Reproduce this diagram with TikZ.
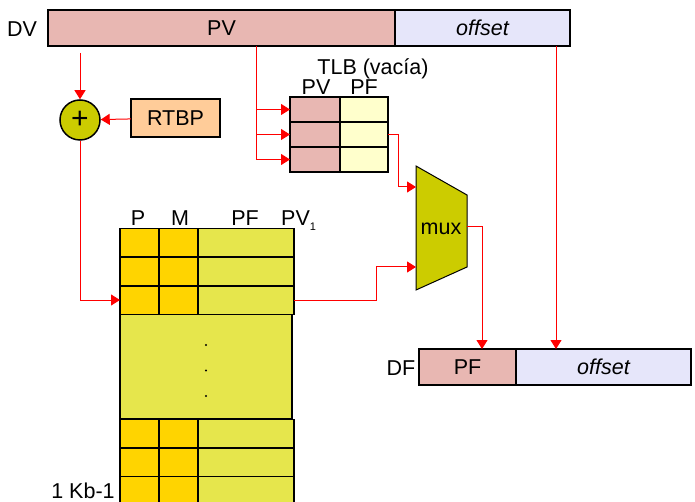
\documentclass[tikz,border=0pt]{standalone}
\usepackage{fontspec}
\setmainfont{Liberation Sans}
\usepackage{tikz}
\usetikzlibrary{arrows.meta, positioning}
\definecolor{pvpink}{HTML}{E8B7B2}
\definecolor{offlav}{HTML}{E6E6FA}
\definecolor{rtbppeach}{HTML}{FFCC99}
\definecolor{olivey}{HTML}{CCCC00}
\definecolor{tlbyellow}{HTML}{FFFFCC}
\definecolor{ptgold}{HTML}{FFD400}
\definecolor{ptgreen}{HTML}{E6E64C}

\begin{document}
\begin{tikzpicture}[x=1pt, y=-1pt,
  arr/.style={-{Triangle[length=9pt,width=11pt]}, red, line width=1pt},
  lbl/.style={font=\fontsize{21.5}{24}\selectfont, inner sep=0pt},
  field/.style={draw, line width=1.6pt, inner sep=0pt, outer sep=0pt, minimum height=36pt, font=\fontsize{21.5}{24}\selectfont},
  cellbox/.style={draw, line width=1.5pt, inner sep=0pt, outer sep=0pt}
]
\useasboundingbox (0,0) rectangle (695,502);
\clip (0,0) rectangle (695,502);

% virtual address
\node[lbl] (dv) at (22,29) {DV};
\node[field, fill=pvpink, minimum width=347pt] (pv) at (221.5,28) {PV};
\node[field, fill=offlav, minimum width=175pt] (off) at (482.5,28) {\itshape offset};

% base register and adder
\node[circle, draw, line width=1.5pt, fill=olivey, minimum size=40pt, inner sep=0pt, font=\fontsize{30}{30}\selectfont] (sum) at (80,120) {+};
\node[field, fill=rtbppeach, minimum width=89pt, minimum height=38pt] (rtbp) at (175.5,118) {RTBP};

% TLB
\node[lbl] (tlbname) at (373,69) {TLB (vacía)};
\node[lbl] (tlbpv) at (316,87) {PV};
\node[lbl] (tlbpf) at (364,87) {PF};
\foreach \r/\y in {1/109.5,2/134.5,3/159.5} {
  \node[cellbox, fill=pvpink, minimum width=50pt, minimum height=25pt] (tlb-\r-1) at (315,\y) {};
  \node[cellbox, fill=tlbyellow, minimum width=48pt, minimum height=25pt] (tlb-\r-2) at (364,\y) {};
}

% page table
\node[lbl] (hp) at (138,218) {P};
\node[lbl] (hm) at (180,218) {M};
\node[lbl] (hpf) at (245,218) {PF};
\node[lbl, anchor=base west] (hpv) at (281,225.5) {PV\raisebox{-5pt}{\fontsize{11}{11}\selectfont 1}};
\foreach \r/\y in {1/243,2/271.5,3/300,4/433.5,5/462,6/490.5} {
  \node[cellbox, fill=ptgold, minimum width=39pt, minimum height=28.5pt] (pt-\r-1) at (139.5,\y) {};
  \node[cellbox, fill=ptgold, minimum width=39pt, minimum height=28.5pt] (pt-\r-2) at (178.5,\y) {};
  \node[cellbox, fill=ptgreen, minimum width=96pt, minimum height=28.5pt] (pt-\r-3) at (246,\y) {};
}
\node[cellbox, fill=ptgreen, minimum width=172pt, minimum height=104.5pt] (gap) at (206,366.5) {};
\foreach \y in {345,370.5,396} \fill (206,\y) circle (1.1pt);
\node[lbl] (last) at (83,491) {1 Kb-1};

% multiplexer
\coordinate (mux-tl) at (416,166);
\coordinate (mux-tr) at (467,195);
\coordinate (mux-br) at (467,267);
\coordinate (mux-bl) at (416,290);
\draw[fill=olivey, line width=1pt] (mux-tl) -- (mux-tr) -- (mux-br) -- (mux-bl) -- cycle;
\node[lbl] (mux) at (441,229) {mux};
\coordinate (mux-in1) at (416,187);
\coordinate (mux-in2) at (416,267);
\coordinate (mux-out) at (467,227);

% physical address
\node[lbl] (df) at (401,368) {DF};
\node[field, fill=pvpink, minimum width=97pt] (dfpf) at (467.5,367) {PF};
\node[field, fill=offlav, minimum width=175pt] (dfoff) at (603.5,367) {\itshape offset};

% connections
\coordinate (tap1) at (80,53);
\coordinate (tap2) at (256,46);
\coordinate (tap3) at (556,46);
\draw[arr] (tap1) -- (sum.north);
\draw[arr] (rtbp) -- (sum);
\draw[arr] (sum.south) |- (pt-3-1.west);
\foreach \r in {1,2,3}
  \draw[arr] (tap2) |- (tlb-\r-1.west);
\draw[arr] (tlb-2-2.east) -- ++(10,0) |- (mux-in1);
\draw[arr] (pt-3-3.east) -- ++(82,0) |- (mux-in2);
\draw[arr] (mux-out) -| ([xshift=14.5pt]dfpf.north);
\draw[arr] (tap3) -- (tap3 |- dfoff.north);
\end{tikzpicture}
\end{document}
